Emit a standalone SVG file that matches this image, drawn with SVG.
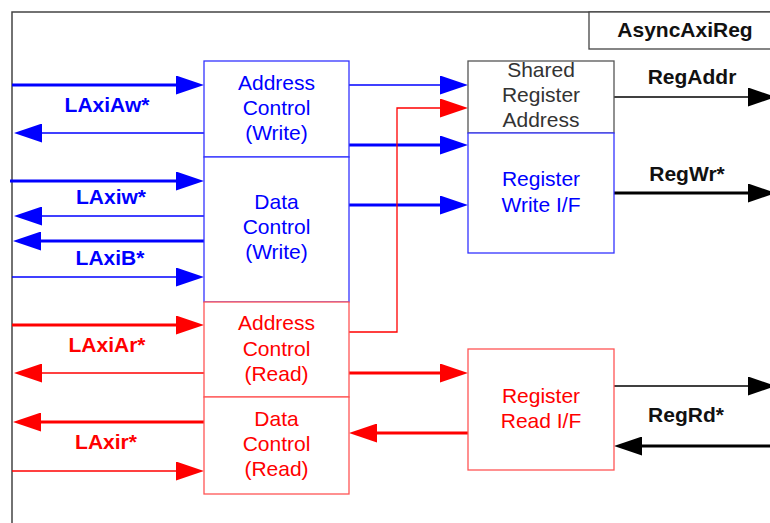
<svg xmlns="http://www.w3.org/2000/svg" width="770" height="523" viewBox="0 0 770 523">
<defs>
<marker id="ab" markerUnits="userSpaceOnUse" markerWidth="28" markerHeight="19" refX="22" refY="9.5" orient="auto"><path d="M0,0 L28,9.5 L0,19 z" fill="#0000ff"/></marker>
<marker id="ar" markerUnits="userSpaceOnUse" markerWidth="28" markerHeight="19" refX="22" refY="9.5" orient="auto"><path d="M0,0 L28,9.5 L0,19 z" fill="#ff0000"/></marker>
<marker id="ak" markerUnits="userSpaceOnUse" markerWidth="28" markerHeight="19" refX="22" refY="9.5" orient="auto"><path d="M0,0 L28,9.5 L0,19 z" fill="#000000"/></marker>
<style>
text{font-family:"Liberation Sans",Arial,sans-serif;font-size:21px;text-anchor:middle}
.lb{font-weight:bold}
.b{fill:#0000ff}
.r{fill:#ff0000}
.k{fill:#111111}
.g{fill:#333333}
.boxb{fill:#ffffff;stroke:#3333ff;stroke-width:1.3}
.boxr{fill:#ffffff;stroke:#ff5555;stroke-width:1.3}
.boxg{fill:#ffffff;stroke:#555555;stroke-width:1.3}
.cb{fill:none;stroke:#0000ff}
.cr{fill:none;stroke:#ff0000}
.ck{fill:none;stroke:#000000}
.tk{stroke-width:3.2}
.tn{stroke-width:1.3}
</style>
</defs>
<rect width="770" height="523" fill="#ffffff"/>
<g id="frame">
<path d="M12,523 V12 H770" fill="none" stroke="#444444" stroke-width="1.5"/>
<rect x="589" y="12" width="190" height="37" fill="#ffffff" stroke="#444444" stroke-width="1.3"/>
<text x="685" y="37" class="lb k">AsyncAxiReg</text>
</g>
<g id="connectors">
<path class="cb tk" d="M12,85 H198" marker-end="url(#ab)"/>
<path class="cb tn" d="M204,133 H20" marker-end="url(#ab)"/>
<path class="cb tk" d="M10,181 H198" marker-end="url(#ab)"/>
<path class="cb tn" d="M204,216 H20" marker-end="url(#ab)"/>
<path class="cb tk" d="M206,241 H19" marker-end="url(#ab)"/>
<path class="cb tn" d="M12,277 H198" marker-end="url(#ab)"/>
<path class="cb tn" d="M349,85 H462" marker-end="url(#ab)"/>
<path class="cb tk" d="M349,145 H462" marker-end="url(#ab)"/>
<path class="cb tk" d="M349,205 H462" marker-end="url(#ab)"/>
<path class="cr tk" d="M12,325 H198" marker-end="url(#ar)"/>
<path class="cr tn" d="M204,373 H20" marker-end="url(#ar)"/>
<path class="cr tk" d="M206,422 H19" marker-end="url(#ar)"/>
<path class="cr tn" d="M12,471 H198" marker-end="url(#ar)"/>
<path class="cr tn" d="M349,332 H397 V108 H462" marker-end="url(#ar)"/>
<path class="cr tk" d="M349,373 H462" marker-end="url(#ar)"/>
<path class="cr tk" d="M468,433 H355" marker-end="url(#ar)"/>
<path class="ck tn" d="M614,97 H770" marker-end="url(#ak)"/>
<path class="ck tk" d="M614,193 H770" marker-end="url(#ak)"/>
<path class="ck tn" d="M614,386 H770" marker-end="url(#ak)"/>
<path class="ck tk" d="M775,446 H620" marker-end="url(#ak)"/>
<text x="107" y="112" class="lb b">LAxiAw*</text>
<text x="111" y="204" class="lb b">LAxiw*</text>
<text x="110" y="265" class="lb b">LAxiB*</text>
<text x="107" y="352" class="lb r">LAxiAr*</text>
<text x="106" y="449" class="lb r">LAxir*</text>
<text x="692" y="84" class="lb k">RegAddr</text>
<text x="687" y="181" class="lb k">RegWr*</text>
<text x="686" y="422" class="lb k">RegRd*</text>
</g>
<g id="addr-ctrl-write">
<rect x="204" y="61" width="145" height="96" class="boxb"/>
<text x="276.5" y="90" class="b">Address</text>
<text x="276.5" y="115" class="b">Control</text>
<text x="276.5" y="140" class="b">(Write)</text>
</g>
<g id="data-ctrl-write">
<rect x="204" y="157" width="145" height="145" class="boxb"/>
<text x="276.5" y="209" class="b">Data</text>
<text x="276.5" y="234" class="b">Control</text>
<text x="276.5" y="259" class="b">(Write)</text>
</g>
<g id="addr-ctrl-read">
<rect x="204" y="302" width="145" height="95" class="boxr"/>
<text x="276.5" y="330" class="r">Address</text>
<text x="276.5" y="355.5" class="r">Control</text>
<text x="276.5" y="381" class="r">(Read)</text>
</g>
<g id="data-ctrl-read">
<rect x="204" y="397" width="145" height="97" class="boxr"/>
<text x="276.5" y="426" class="r">Data</text>
<text x="276.5" y="451" class="r">Control</text>
<text x="276.5" y="476" class="r">(Read)</text>
</g>
<g id="shared-reg-addr">
<rect x="468" y="61" width="146" height="72" class="boxg"/>
<text x="541" y="77" class="g">Shared</text>
<text x="541" y="102" class="g">Register</text>
<text x="541" y="127" class="g">Address</text>
</g>
<g id="reg-write-if">
<rect x="468" y="133" width="146" height="120" class="boxb"/>
<text x="541" y="186" class="b">Register</text>
<text x="541" y="212" class="b">Write I/F</text>
</g>
<g id="reg-read-if">
<rect x="468" y="349" width="146" height="121" class="boxr"/>
<text x="541" y="403" class="r">Register</text>
<text x="541" y="428" class="r">Read I/F</text>
</g>
</svg>
